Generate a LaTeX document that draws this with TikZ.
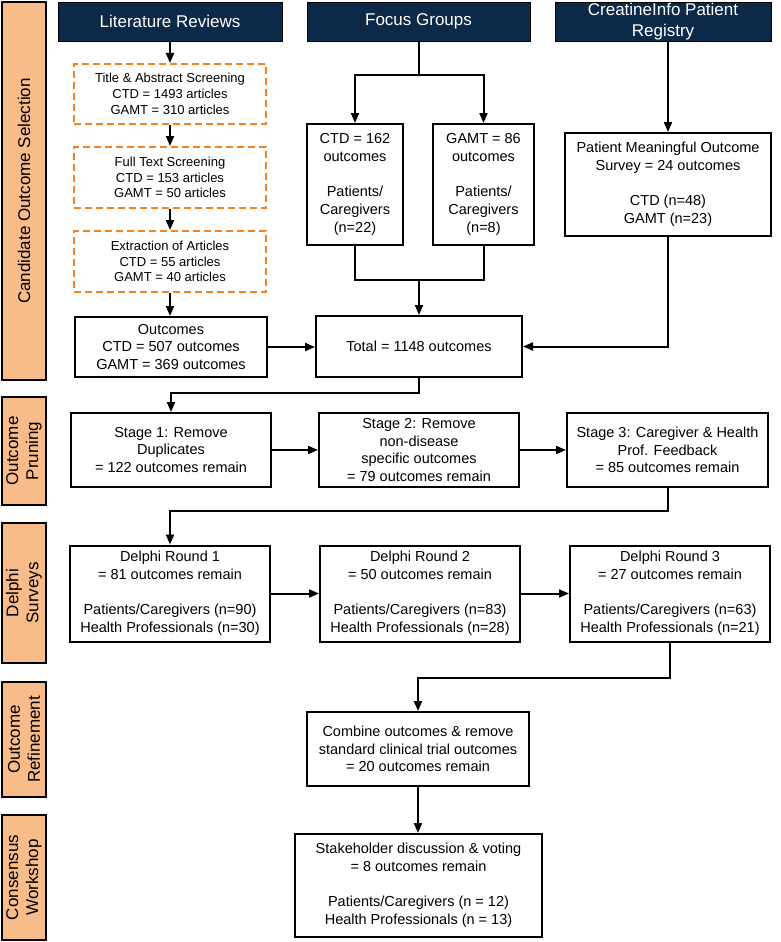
\documentclass[tikz,border=0pt]{standalone}
\usepackage{fontspec}
\setmainfont{Liberation Sans}
\usetikzlibrary{arrows.meta}
\definecolor{navy}{RGB}{12,41,72}
\definecolor{sideor}{RGB}{248,187,138}
\definecolor{dashor}{RGB}{245,130,32}
\tikzset{
 sidebar/.style={draw=black, line width=1.8pt, fill=sideor, rotate=90, font=\fontsize{17}{20}\selectfont, align=center, inner sep=0pt},
 hdr/.style={draw=black, fill=navy, text=white, font=\fontsize{17}{20.4}\selectfont, align=center, inner sep=0pt, line width=0.8pt},
 dbox/.style={draw=dashor, dash pattern=on 7pt off 4pt, line width=2pt, font=\fontsize{13}{15.7}\selectfont, align=center, inner sep=0pt},
 box/.style={draw=black, line width=2pt, font=\fontsize{14.5}{17.7}\selectfont, align=center, inner sep=0pt},
 conn/.style={line width=2pt},
 arr/.style={conn, -{Triangle[length=10pt,width=8pt]}}
}
\begin{document}
\begin{tikzpicture}[x=1pt,y=-1pt]
\useasboundingbox (0,0) rectangle (780,942);
% side bars
\node[sidebar, minimum width=378, minimum height=44] (s1) at (24,191) {Candidate Outcome Selection};
\node[sidebar, minimum width=108, minimum height=44] (s2) at (24,451) {Outcome\\Pruning};
\node[sidebar, minimum width=140, minimum height=44] (s3) at (24,593) {Delphi\\Surveys};
\node[sidebar, minimum width=115, minimum height=44] (s4) at (24,739.5) {Outcome\\Refinement};
\node[sidebar, minimum width=125, minimum height=44] (s5) at (24,877.5) {Consensus\\Workshop};
% headers
\node[hdr, minimum width=224, minimum height=39] (h1) at (170,21.5) {Literature Reviews};
\node[hdr, minimum width=223, minimum height=39] (h2) at (418.5,21.5) {Focus Groups};
\node[hdr, minimum width=216, minimum height=39] (h3) at (663,21.5) {CreatineInfo Patient\\Registry};
% literature
\node[dbox, minimum width=192, minimum height=60] (d1) at (170,94) {Title \& Abstract Screening\\CTD = 1493 articles\\GAMT = 310 articles};
\node[dbox, minimum width=192, minimum height=61] (d2) at (170,177.5) {Full Text Screening\\CTD = 153 articles\\GAMT = 50 articles};
\node[dbox, minimum width=192, minimum height=61] (d3) at (170,261.5) {Extraction of Articles\\CTD = 55 articles\\GAMT = 40 articles};
% focus groups
\node[box, minimum width=96, minimum height=121] (fc) at (355,184.5) {CTD = 162\\outcomes\\[17.7pt]Patients/\\Caregivers\\(n=22)};
\node[box, minimum width=101, minimum height=121] (fg) at (483.5,184.5) {GAMT = 86\\outcomes\\[17.7pt]Patients/\\Caregivers\\(n=8)};
\node[box, minimum width=206, minimum height=103] (pmo) at (668,184.5) {Patient Meaningful Outcome\\Survey = 24 outcomes\\[17.7pt]CTD (n=48)\\GAMT (n=23)};
% outcomes row
\node[box, minimum width=192, minimum height=60] (out) at (171,347) {Outcomes\\CTD = 507 outcomes\\GAMT = 369 outcomes};
\node[box, minimum width=206, minimum height=61] (tot) at (419,346.5) {Total = 1148 outcomes};
% stages
\node[box, minimum width=200, minimum height=74] (st1) at (171,450) {Stage 1: Remove\\Duplicates\\= 122 outcomes remain};
\node[box, minimum width=200, minimum height=74] (st2) at (419,450) {Stage 2: Remove\\non-disease\\specific outcomes\\= 79 outcomes remain};
\node[box, minimum width=201, minimum height=74] (st3) at (667.5,450) {Stage 3: Caregiver \& Health\\Prof. Feedback\\= 85 outcomes remain};
% delphi
\node[box, minimum width=200, minimum height=96] (dp1) at (170,593.5) {Delphi Round 1\\= 81 outcomes remain\\[17.7pt]Patients/Caregivers (n=90)\\Health Professionals (n=30)};
\node[box, minimum width=200, minimum height=96] (dp2) at (420,593.5) {Delphi Round 2\\= 50 outcomes remain\\[17.7pt]Patients/Caregivers (n=83)\\Health Professionals (n=28)};
\node[box, minimum width=200, minimum height=96] (dp3) at (670,593.5) {Delphi Round 3\\= 27 outcomes remain\\[17.7pt]Patients/Caregivers (n=63)\\Health Professionals (n=21)};
% refinement & consensus
\node[box, minimum width=222, minimum height=74] (comb) at (418,749) {Combine outcomes \& remove\\standard clinical trial outcomes\\= 20 outcomes remain};
\node[box, minimum width=247, minimum height=103] (stake) at (418.5,885.5) {Stakeholder discussion \& voting\\= 8 outcomes remain\\[17.7pt]Patients/Caregivers (n = 12)\\Health Professionals (n = 13)};
% connectors
\draw[arr] (h1.south) -- (d1.north);
\draw[arr] (d1.south) -- (d2.north);
\draw[arr] (d2.south) -- (d3.north);
\draw[arr] (d3.south) -- (d3.south |- out.north);
\coordinate (fj) at (418.5,75);
\draw[conn] (h2.south) -- (fj);
\draw[arr] (fj) -| (fc.north);
\draw[arr] (fj) -| (fg.north);
\coordinate (j2) at (419,280);
\draw[conn] (fc.south) |- (j2) -| (fg.south);
\draw[arr] (j2) -- (tot.north);
\draw[arr] (pmo.north |- h3.south) -- (pmo.north);
\draw[arr] (pmo.south) |- (tot.east);
\draw[arr] (out.east) -- (out.east -| tot.west);
\draw[arr] (tot.south) -- ++(0,15) -| (st1.north);
\draw[arr] (st1.east) -- (st2.west);
\draw[arr] (st2.east) -- (st3.west);
\draw[arr] (st3.south) -- ++(0,23) -| (dp1.north);
\draw[arr] (dp1.east) -- (dp2.west);
\draw[arr] (dp2.east) -- (dp3.west);
\draw[arr] (dp3.south) -- ++(0,35) -| (comb.north);
\draw[arr] (comb.south) -- (comb.south |- stake.north);
\end{tikzpicture}
\end{document}
